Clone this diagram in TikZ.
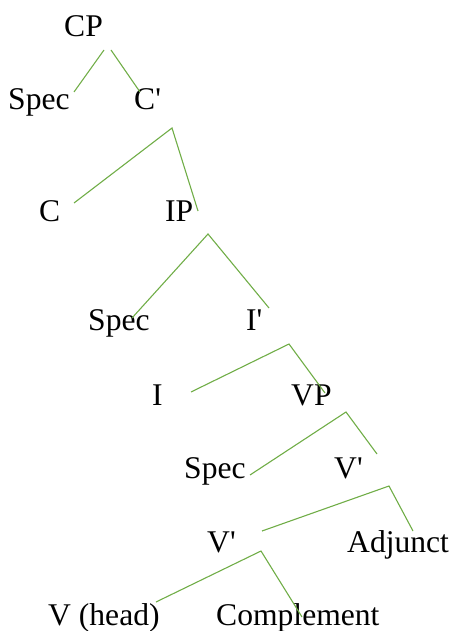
\documentclass[tikz,border=0pt]{standalone}
\usepackage{fontspec}
\setmainfont{Liberation Serif}
\definecolor{branch}{RGB}{112,173,71}
\newcommand{\pr}{\textquotesingle}
\begin{document}
\begin{tikzpicture}[x=1pt,y=-1pt,
  lab/.style={anchor=base west,inner sep=0pt,font=\fontsize{31.6}{36}\selectfont},
  edge/.style={draw=branch,line width=1.1pt}]
\useasboundingbox (0,0) rectangle (453,631);
% labels
\node[lab] (cp) at (64,37) {CP};
\node[lab] (spec1) at (8,110) {Spec};
\node[lab] (cbar) at (134,110) {C\pr};
\node[lab] (c) at (39,221) {C};
\node[lab] (ip) at (165,221) {IP};
\node[lab] (spec2) at (88,330) {Spec};
\node[lab] (ibar) at (246,330) {I\pr};
\node[lab] (i) at (152,405) {I};
\node[lab] (vp) at (291,405) {VP};
\node[lab] (spec3) at (184,478) {Spec};
\node[lab] (vbar1) at (334,478) {V\pr};
\node[lab] (vbar2) at (207,552) {V\pr};
\node[lab] (adj) at (347,552) {Adjunct};
\node[lab] (vhead) at (48,625) {V (head)};
\node[lab] (comp) at (216,625) {Complement};
% branch points
\coordinate (cpL) at (104,50);
\coordinate (cpR) at (111,50);
\coordinate (spec1e) at (74,92);
\coordinate (cbare) at (140,92);
\coordinate (cbarA) at (172,128);
\coordinate (ce) at (74,203);
\coordinate (ipe) at (198,211);
\coordinate (ipA) at (208,234);
\coordinate (spec2e) at (132,318);
\coordinate (ibare) at (269,308);
\coordinate (ibarA) at (289,344);
\coordinate (ie) at (191,392);
\coordinate (vpe) at (325,393);
\coordinate (vpA) at (346,412);
\coordinate (spec3e) at (250,475);
\coordinate (vbar1e) at (377,454);
\coordinate (vbar1A) at (389,486);
\coordinate (vbar2e) at (262,531);
\coordinate (adje) at (413,531);
\coordinate (vbar2A) at (261,551);
\coordinate (vheade) at (156,602);
\coordinate (compe) at (302,617);
% branches
\draw[edge] (cpL) -- (spec1e);
\draw[edge] (cpR) -- (cbare);
\draw[edge] (ce) -- (cbarA) -- (ipe);
\draw[edge] (spec2e) -- (ipA) -- (ibare);
\draw[edge] (ie) -- (ibarA) -- (vpe);
\draw[edge] (spec3e) -- (vpA) -- (vbar1e);
\draw[edge] (vbar2e) -- (vbar1A) -- (adje);
\draw[edge] (vheade) -- (vbar2A) -- (compe);
\end{tikzpicture}
\end{document}
